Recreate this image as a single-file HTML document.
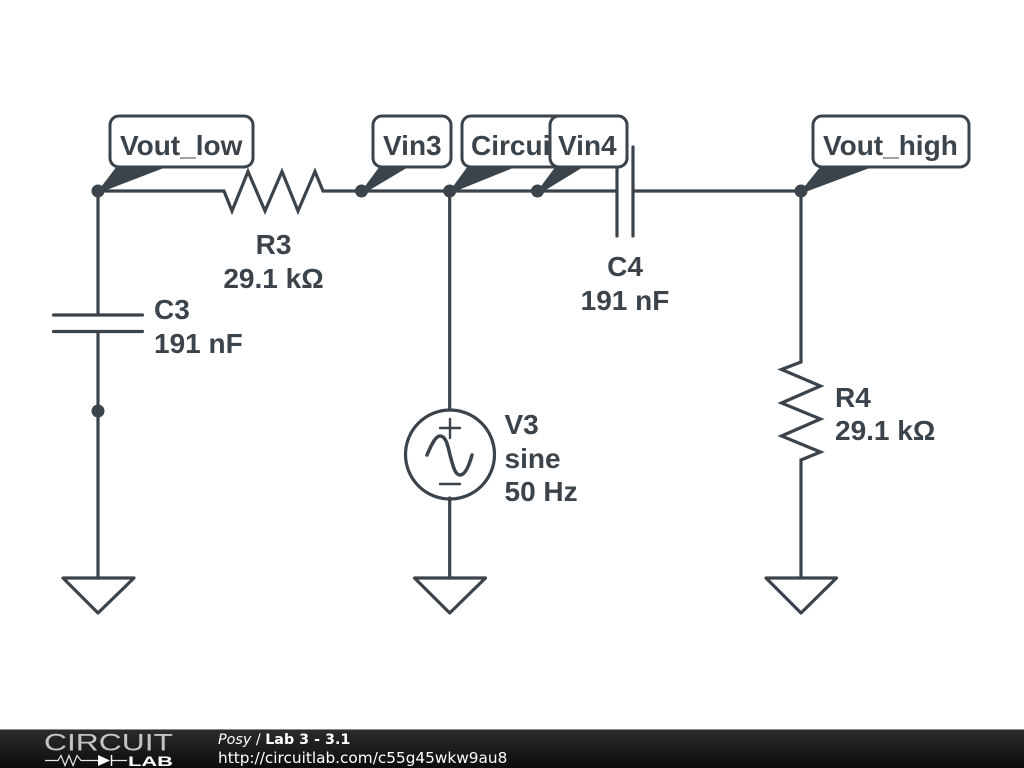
<!DOCTYPE html>
<html><head><meta charset="utf-8"><title>Lab 3 - 3.1</title>
<style>html,body{margin:0;padding:0;background:#fff}svg{display:block}
.t{font:bold 28px "Liberation Sans",sans-serif;fill:#3b444b}</style></head>
<body>
<svg width="1024" height="768" viewBox="0 0 1024 768" xmlns="http://www.w3.org/2000/svg">
<defs><linearGradient id="g" x1="0" y1="0" x2="0" y2="1"><stop offset="0" stop-color="#2c2c2c"/><stop offset="1" stop-color="#0c0c0c"/></linearGradient></defs>
<rect width="1024" height="768" fill="#fff"/>
<g fill="none" stroke="#3b444b" stroke-width="3.2" stroke-linejoin="miter" stroke-linecap="round">
<path d="M98 191H224L232 211L248 171.500L265 211L282 171.500L298 211L315 171.500L323 191H617"/>
<path d="M617 147V236M633 147V236M633 191H801"/>
<path d="M98 191V315M53.500 315H142.500M53.500 331.500H142.500M98 331.500V578"/>
<path d="M449.700 191V410M449.700 498V578"/>
<path d="M801 191V362L781.500 369.500L820.500 386L781.500 403L820.500 419L781.500 436L820.500 452L801 460V578"/>
<circle cx="450" cy="454.500" r="44.500"/>
<path d="M427 455C432 443 436 436 440 436C446 436 448 446 450 455C453 466 455 475 460 475C465 475 469 466 472 455" stroke-width="3.500"/>
<path d="M450 419V438M440 428H460M440 484H460" stroke-width="2.400"/>
<path d="M63 578H134L98 613ZM414.500 578H485.500L449.700 613ZM766 578H836.500L801 613Z" stroke-linejoin="round"/>
</g>
<g fill="#3b444b">
<circle cx="98" cy="191" r="6.500"/><circle cx="361.500" cy="191" r="6.500"/><circle cx="449.700" cy="191" r="6.500"/><circle cx="537.500" cy="191" r="6.500"/><circle cx="801" cy="191" r="6.500"/><circle cx="98" cy="411" r="6.500"/>
<path d="M98 191L117 166H169L104 191Z"/><path d="M361.500 191L380 166H410L368 191Z"/><path d="M449.700 191L468 166H518L456 191Z"/><path d="M537.500 191L556 166H585L544 191Z"/><path d="M801 191L821 166H875L808 191Z"/>
</g>
<g fill="#fff" stroke="#3b444b" stroke-width="3">
<rect x="110" y="116" width="143" height="51" rx="9"/>
<rect x="373" y="116" width="78" height="51" rx="9"/>
<rect x="462" y="116" width="165" height="51" rx="9"/>
</g>
<text class="t" x="471" y="155">Circuit</text>
<rect x="550" y="116" width="77" height="51" rx="9" fill="#fff" stroke="#3b444b" stroke-width="3"/>
<rect x="813" y="116" width="156" height="51" rx="9" fill="#fff" stroke="#3b444b" stroke-width="3"/>
<text class="t" x="120" y="155">Vout_low</text>
<text class="t" x="383" y="155">Vin3</text>
<text class="t" x="558" y="155">Vin4</text>
<text class="t" x="823" y="155">Vout_high</text>
<text class="t" x="273.500" y="254" text-anchor="middle">R3</text>
<text class="t" x="273.500" y="288" text-anchor="middle">29.1 kΩ</text>
<text class="t" x="625" y="276" text-anchor="middle">C4</text>
<text class="t" x="625" y="310" text-anchor="middle">191 nF</text>
<text class="t" x="154" y="319">C3</text>
<text class="t" x="154" y="353">191 nF</text>
<text class="t" x="504.500" y="434">V3</text>
<text class="t" x="504.500" y="468">sine</text>
<text class="t" x="504.500" y="501">50 Hz</text>
<text class="t" x="835" y="407">R4</text>
<text class="t" x="835" y="440">29.1 kΩ</text>
<rect y="729" width="1024" height="39" fill="url(#g)"/>
<rect y="729" width="1024" height="1" fill="#8a8a8a"/>
<text x="44" y="750.500" textLength="129" lengthAdjust="spacingAndGlyphs" style="font:24.500px 'Liberation Sans',sans-serif" fill="#c4c4c4">CIRCUIT</text>
<path d="M45 760.500H58L61 755.500L65 765.500L69 755.500L73 765.500L77 755.500L81 760.500H99M111 760.500H127" fill="none" stroke="#e8e8e8" stroke-width="1.200"/>
<path d="M111.500 755V766" fill="none" stroke="#fff" stroke-width="1.500"/>
<path d="M98 755L110 760.500L98 766Z" fill="#fff"/>
<text x="128" y="766" textLength="45" lengthAdjust="spacingAndGlyphs" style="font:bold 14px 'Liberation Sans',sans-serif" fill="#fff">LAB</text>
<text x="218" y="744" style="font:14.300px 'DejaVu Sans',sans-serif" fill="#fff"><tspan font-style="italic">Posy</tspan> / <tspan font-weight="bold">Lab 3 - 3.1</tspan></text>
<text x="218" y="763" style="font:15.300px 'DejaVu Sans',sans-serif" fill="#fff">http://circuitlab.com/c55g45wkw9au8</text>
</svg>
</body></html>
